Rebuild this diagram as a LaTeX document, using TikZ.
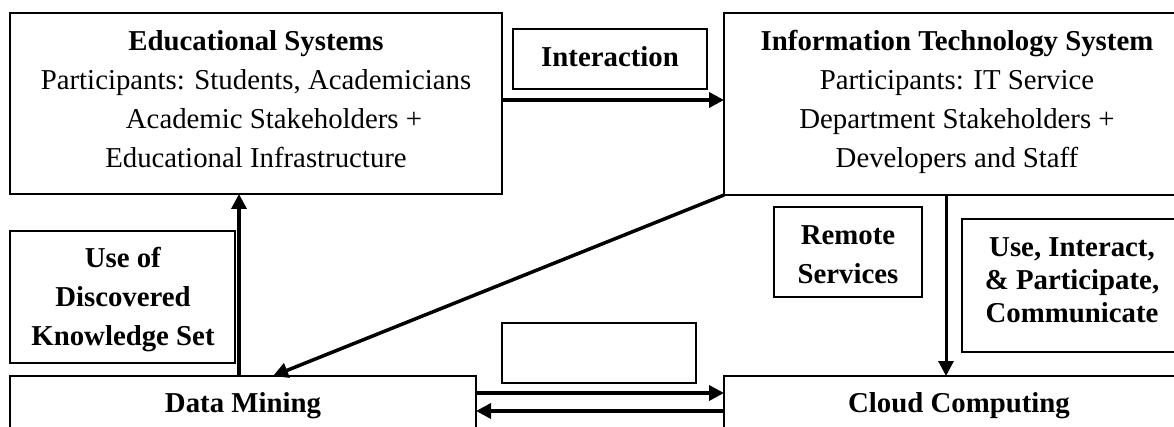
\documentclass[tikz,border=0pt]{standalone}
\usepackage{fontspec}
\setmainfont{Liberation Serif}
\usetikzlibrary{arrows.meta,calc}
\begin{document}
\begin{tikzpicture}[x=1pt,y=-1pt,
  box/.style={draw, line width=1.5pt, inner sep=0pt, outer sep=0pt, anchor=north west},
  txt/.style={font=\fontsize{28.8}{39}\selectfont, align=center, inner sep=0pt},
  tighttxt/.style={font=\fontsize{28.8}{33}\selectfont, align=center, inner sep=0pt},
  arr/.style={line width=3.5pt, -{Triangle[length=15pt,width=15pt]}}]
\useasboundingbox (0,0) rectangle (1174,427);
\clip (0,0) rectangle (1174,427);
% boxes
\node[box, minimum width=492pt, minimum height=181pt] (edu) at (10,13) {};
\node[box, minimum width=466pt, minimum height=182pt] (it) at (724,13) {};
\node[box, minimum width=194pt, minimum height=60pt] (inter) at (513,29) {};
\node[box, minimum width=225pt, minimum height=132pt] (use) at (10,231) {};
\node[box, minimum width=148pt, minimum height=90pt] (rem) at (774,207) {};
\node[box, minimum width=220pt, minimum height=133pt] (upc) at (962,219) {};
\node[box, minimum width=194pt, minimum height=60pt] (empty) at (502,323) {};
\node[box, minimum width=466pt, minimum height=120pt] (dm) at (10,376) {};
\node[box, minimum width=466pt, minimum height=120pt] (cc) at (724,376) {};
% texts
\node[txt] (edut) at (256,99) {\textbf{Educational Systems}\\Participants: Students, Academicians\\\hspace*{36pt}Academic Stakeholders +\\Educational Infrastructure};
\node[txt] (itt) at (957,102) {\textbf{Information Technology System}\\Participants: IT Service\\Department Stakeholders +\\Developers and Staff};
\node[txt] (intert) at (610,57) {\textbf{Interaction}};
\node[txt] (uset) at (123,300) {\textbf{Use of}\\\textbf{Discovered}\\\textbf{Knowledge Set}};
\node[txt] (remt) at (848,255) {\textbf{Remote}\\\textbf{Services}};
\node[tighttxt] (upct) at (1072,280) {\textbf{Use, Interact,}\\\textbf{\& Participate,}\\\textbf{Communicate}};
\node[txt, anchor=base] (dmt) at (243,412) {\textbf{Data Mining}};
\node[txt, anchor=base] (cct) at (959,412) {\textbf{Cloud Computing}};
% connectors
\draw[arr] ([yshift=3.5pt]edu.east) -- ([yshift=3.5pt]edu.east -| it.west);
\draw[arr] ([xshift=-4pt]dm.north) -- ([xshift=-4pt]dm.north |- edu.south);
\draw[arr] (it.south west) -- ([xshift=30pt]dm.north);
\draw[arr, line width=3pt] ([xshift=-11pt]it.south) -- ([xshift=-11pt]it.south |- cc.north);
\draw[arr] ([yshift=-17pt]dm.north east) -- ([yshift=-17pt]dm.north east -| cc.west);
\draw[arr] ([yshift=-35pt]cc.north west) -- ([yshift=-35pt]cc.north west -| dm.east);
\end{tikzpicture}
\end{document}
